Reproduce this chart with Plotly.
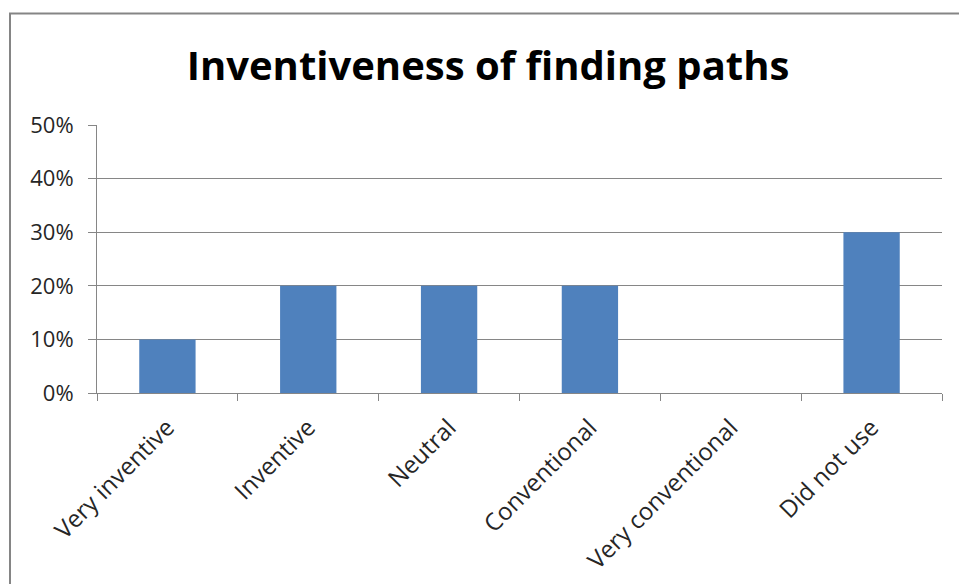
import plotly.graph_objects as go

# Survey responses: how inventive the found paths were
categories = ["Very inventive", "Inventive", "Neutral", "Conventional",
              "Very conventional", "Did not use"]
shares = [0.10, 0.20, 0.20, 0.20, 0.00, 0.30]
y_ticks = [0.0, 0.1, 0.2, 0.3, 0.4, 0.5]

W, H = 959, 584
L, R, T, B = 97, 17, 125, 191
pw, ph = W - L - R, H - T - B

grid = "#868686"
text_col = "#262626"
font_family = "'Open Sans', 'Noto Sans', sans-serif"


def to_paper_x(px):
    return (px - L) / pw


def to_paper_y(py):
    return (H - B - py) / ph


fig = go.Figure(
    go.Bar(
        x=categories,
        y=shares,
        marker=dict(color="#4F81BD", line=dict(width=0)),
        hoverinfo="x+y",
    )
)

fig.update_layout(
    width=W,
    height=H,
    margin=dict(l=L, r=R, t=T, b=B, pad=0),
    paper_bgcolor="white",
    plot_bgcolor="white",
    bargap=0.6,
    showlegend=False,
    title=dict(
        text="<b>Inventiveness of finding paths</b>",
        x=488 / W,
        xref="container",
        xanchor="center",
        y=1 - 66 / H,
        yanchor="middle",
        font=dict(family=font_family, size=40, color="black"),
    ),
    font=dict(family=font_family, size=22, color=text_col),
)

fig.update_yaxes(
    range=[0, 0.5],
    tickvals=y_ticks,
    tickformat=".0%",
    showgrid=True,
    gridcolor=grid,
    gridwidth=1,
    zeroline=False,
    showline=True,
    linecolor=grid,
    linewidth=1,
    ticks="outside",
    ticklen=8,
    tickcolor=grid,
    ticklabelstandoff=10,
    tickfont=dict(size=22, color=text_col),
    automargin=False,
    fixedrange=True,
)

fig.update_xaxes(
    type="category",
    showline=True,
    linecolor=grid,
    linewidth=1,
    showgrid=False,
    ticks="outside",
    tickson="boundaries",
    ticklen=7,
    tickcolor=grid,
    tickangle=-45,
    ticklabelstandoff=10,
    tickfont=dict(size=24, color=text_col),
    automargin=False,
    fixedrange=True,
)

# Chart-area frame (its right and bottom edges fall outside the canvas)
fig.add_shape(
    type="rect",
    xref="paper", yref="paper",
    x0=to_paper_x(10), x1=to_paper_x(W + 20),
    y0=to_paper_y(H + 20), y1=to_paper_y(13.5),
    line=dict(color="#858585", width=2),
    fillcolor="rgba(0,0,0,0)",
    layer="above",
)

fig.write_html("out.html", config={"displayModeBar": False})
